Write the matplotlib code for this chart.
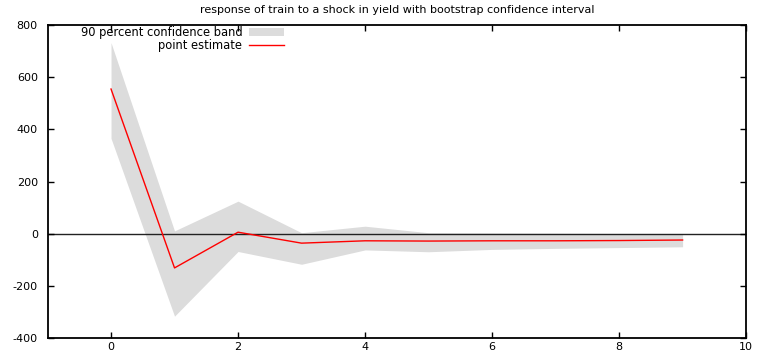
import numpy as np
import matplotlib
matplotlib.use('Agg')
import matplotlib.pyplot as plt

plt.rcParams['axes.unicode_minus'] = False

# impulse response horizon and estimates
horizon = [0, 1, 2, 3, 4, 5, 6, 7, 8, 9]
point_estimate = [555, -131, 6, -36, -27, -28, -27, -27, -26, -24]
band_upper = [733, 11, 125, 4, 29, 4, 3, 2, 1, 1]
band_lower = [366, -316, -68, -117, -62, -69, -60, -56, -53, -50]

title = 'response of train to a shock in yield with bootstrap confidence interval'


def plot_response(outfile='out.png'):
    fig = plt.figure(figsize=(7.59, 3.54), dpi=100)
    ax = fig.add_axes([0.0626, 0.045, 0.9204, 0.884])

    x = np.array(horizon)
    ax.fill_between(x, band_lower, band_upper, color='#dcdcdc', lw=0,
                    label='90 percent confidence band')
    ax.axhline(0, color='#222222', lw=1.0, zorder=1)
    ax.plot(x, point_estimate, color='red', lw=1.0,
            label='point estimate', zorder=3)

    ax.set_xlim(-1, 10)
    ax.set_ylim(-400, 800)
    ax.set_xticks(range(0, 11, 2))
    ax.set_yticks(range(-400, 801, 200))
    ax.tick_params(direction='in', length=4, width=1, top=True, right=True,
                   labelsize=8, colors='black')
    ax.tick_params(axis='x', pad=3)
    ax.tick_params(axis='y', pad=7)
    for sp in ax.spines.values():
        sp.set_linewidth(1.3)

    ax.set_title(title, fontsize=8, pad=9)

    ax.legend(loc='upper right', bbox_to_anchor=(0.345, 1.012),
              markerfirst=False, frameon=False, fontsize=8.3,
              handlelength=3.0, handleheight=0.6, labelspacing=0.0,
              handletextpad=0.6, borderaxespad=0.2, borderpad=0.2)
    fig.savefig(outfile, dpi=100)
    plt.close(fig)


plot_response()
